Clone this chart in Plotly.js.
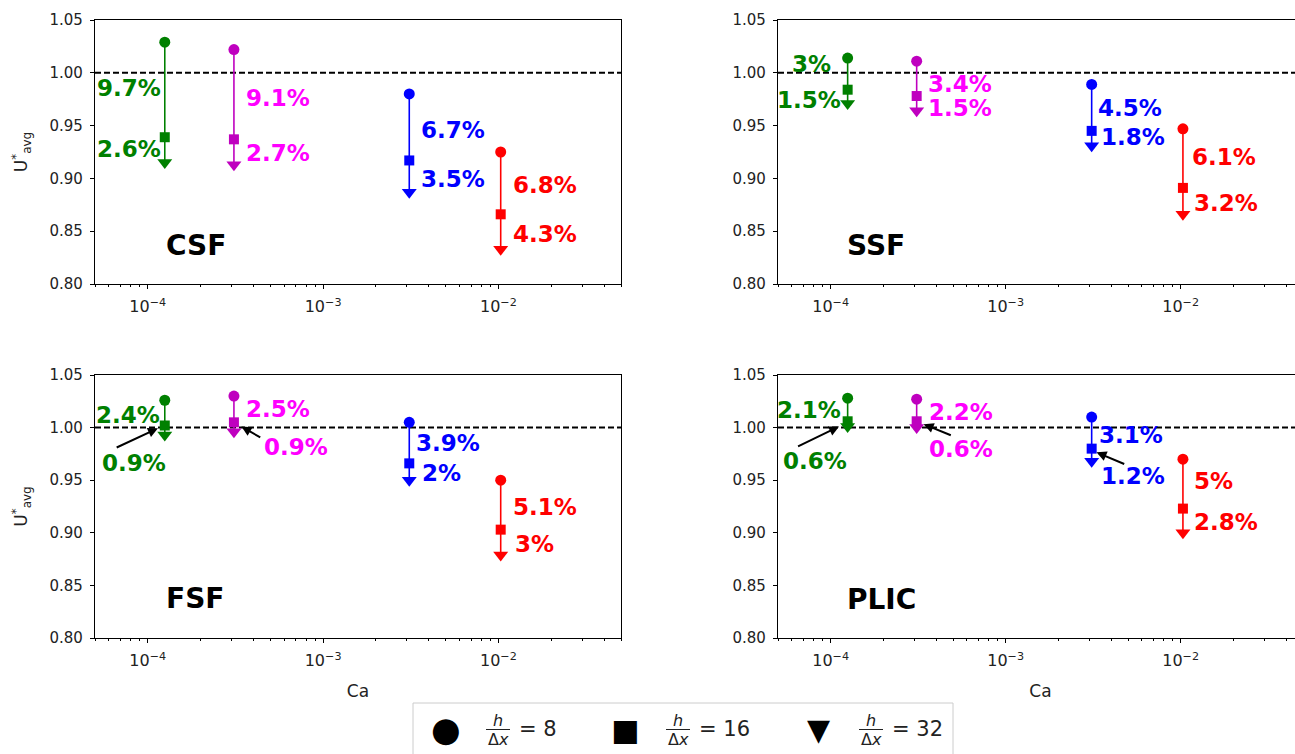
<!DOCTYPE html>
<html><head><meta charset="utf-8">
<script src="https://cdn.plot.ly/plotly-3.0.1.min.js"></script>
<style>html,body{margin:0;padding:0;overflow:hidden;background:#fff}#chart{width:1310px;height:754px}</style>
</head><body><div id="chart"></div>
<script>
// ---------------- data ----------------
const ca = [1.25e-4, 3.1e-4, 3.1e-3, 1.03e-2];
const methods = ['CSF', 'SSF', 'FSF', 'PLIC'];
// U*avg for h/dx = 8, 16, 32 at each Ca
const csf_h8  = [1.029, 1.022, 0.980, 0.925];
const csf_h16 = [0.939, 0.937, 0.917, 0.866];
const csf_h32 = [0.915, 0.913, 0.887, 0.833];
const ssf_h8  = [1.014, 1.011, 0.989, 0.947];
const ssf_h16 = [0.984, 0.978, 0.945, 0.891];
const ssf_h32 = [0.971, 0.964, 0.931, 0.866];
const fsf_h8  = [1.026, 1.030, 1.005, 0.950];
const fsf_h16 = [1.002, 1.005, 0.966, 0.903];
const fsf_h32 = [0.993, 0.996, 0.950, 0.879];
const plic_h8  = [1.028, 1.027, 1.010, 0.970];
const plic_h16 = [1.006, 1.006, 0.980, 0.923];
const plic_h32 = [1.001, 1.000, 0.968, 0.900];
// percentage labels (8->16, 16->32)
const csf_pct_a  = ['9.7%', '9.1%', '6.7%', '6.8%'];
const csf_pct_b  = ['2.6%', '2.7%', '3.5%', '4.3%'];
const ssf_pct_a  = ['3%', '3.4%', '4.5%', '6.1%'];
const ssf_pct_b  = ['1.5%', '1.5%', '1.8%', '3.2%'];
const fsf_pct_a  = ['2.4%', '2.5%', '3.9%', '5.1%'];
const fsf_pct_b  = ['0.9%', '0.9%', '2%', '3%'];
const plic_pct_a = ['2.1%', '2.2%', '3.1%', '5%'];
const plic_pct_b = ['0.6%', '0.6%', '1.2%', '2.8%'];
const x_tick_vals = [1e-4, 1e-3, 1e-2];
const x_tick_text = ['10<sup>\u22124</sup>', '10<sup>\u22123</sup>', '10<sup>\u22122</sup>'];
const legend_labels = ['= 8', '= 16', '= 32'];

// ---------------- styles / layout ----------------
const W = 1310, H = 754;
const FONT = 'DejaVu Sans';
const markerColors = ['#008000', '#BF00BF', '#0000FF', '#FF0000'];
const textColors = ['#008000', '#FF00FF', '#0000FF', '#FF0000'];
const px = v => v / W, py = v => 1 - v / H;

const panels = [
  {name: methods[0], h8: csf_h8, h16: csf_h16, h32: csf_h32, a: csf_pct_a, b: csf_pct_b,
   xd: [95, 621], yd: [20, 284], ytitle: true, xtitle: false,
   posA: [[-3.912, 0.9855, 'right'], [-3.452, 0.9766, 'left'], [-2.452, 0.9456, 'left'], [-1.930, 0.8934, 'left']],
   posB: [[-3.912, 0.928, 'right'], [-3.450, 0.9244, 'left'], [-2.452, 0.8997, 'left'], [-1.930, 0.8475, 'left']],
   lab: [-3.907, 0.836], arrows: []},
  {name: methods[1], h8: ssf_h8, h16: ssf_h16, h32: ssf_h32, a: ssf_pct_a, b: ssf_pct_b,
   xd: [778, 1303], yd: [20, 284], ytitle: false, xtitle: false,
   posA: [[-3.988, 1.0088, 'right'], [-3.457, 0.9897, 'left'], [-2.483, 0.967, 'left'], [-1.948, 0.9206, 'left']],
   posB: [[-3.929, 0.9745, 'right'], [-3.457, 0.9669, 'left'], [-2.464, 0.939, 'left'], [-1.933, 0.877, 'left']],
   lab: [-3.921, 0.836], arrows: []},
  {name: methods[2], h8: fsf_h8, h16: fsf_h16, h32: fsf_h32, a: fsf_pct_a, b: fsf_pct_b,
   xd: [95, 621], yd: [375, 638], ytitle: true, xtitle: true,
   posA: [[-3.919, 1.012, 'right'], [-3.450, 1.0177, 'left'], [-2.480, 0.985, 'left'], [-1.930, 0.925, 'left']],
   posB: [[-4.271, 0.9668, 'left'], [-3.346, 0.9813, 'left'], [-2.450, 0.9567, 'left'], [-1.916, 0.889, 'left']],
   lab: [-3.907, 0.838],
   arrows: [[-4.186, 0.9804, -3.942, 0.9994], [-3.350, 0.9899, -3.466, 1.001]]},
  {name: methods[3], h8: plic_h8, h16: plic_h16, h32: plic_h32, a: plic_pct_a, b: plic_pct_b,
   xd: [778, 1303], yd: [375, 638], ytitle: false, xtitle: true,
   posA: [[-3.929, 1.0169, 'right'], [-3.452, 1.0153, 'left'], [-2.476, 0.9932, 'left'], [-1.933, 0.949, 'left']],
   posB: [[-4.286, 0.968, 'left'], [-3.452, 0.9796, 'left'], [-2.469, 0.9537, 'left'], [-1.933, 0.910, 'left']],
   lab: [-3.921, 0.837],
   arrows: [[-4.195, 0.9815, -3.952, 1.001], [-3.305, 0.9922, -3.469, 1.0033], [-2.314, 0.9648, -2.481, 0.9765]]}
];

const minorVals = [];
for (let e = -5; e <= -2; e++) for (let m = 2; m <= 9; m++) minorVals.push(m * Math.pow(10, e));

const traces = [];
const annotations = [];
const shapes = [];
const layout = {
  width: W, height: H, margin: {l: 0, r: 0, t: 0, b: 0},
  paper_bgcolor: '#fff', plot_bgcolor: '#fff', showlegend: false,
  font: {family: FONT, color: '#222'}
};

panels.forEach((p, k) => {
  const n = k + 1, sfx = n === 1 ? '' : String(n);
  const xr = 'x' + sfx, yr = 'y' + sfx;
  layout['xaxis' + sfx] = {
    type: 'log', domain: [px(p.xd[0]), px(p.xd[1])], anchor: yr,
    range: [Math.log10(5e-5), Math.log10(5e-2)],
    tickmode: 'array', tickvals: x_tick_vals, ticktext: x_tick_text,
    ticks: 'outside', ticklen: 4, tickwidth: 1, tickcolor: '#000', ticklabelstandoff: 4,
    showline: true, linecolor: '#000', linewidth: 1.2, mirror: true,
    showgrid: false, zeroline: false, automargin: false, fixedrange: true,
    tickfont: {family: FONT, size: 16, color: '#222'},
    minor: {tickmode: 'array', tickvals: minorVals, ticks: 'outside', ticklen: 2, tickwidth: 1, tickcolor: '#000', showgrid: false},
    title: p.xtitle ? {text: 'Ca', font: {family: FONT, size: 17, color: '#222'}, standoff: 15} : {text: ''}
  };
  layout['yaxis' + sfx] = {
    domain: [py(p.yd[1]), py(p.yd[0])], anchor: xr,
    range: [0.80, 1.05], tick0: 0.8, dtick: 0.05,
    tickformat: '.2f', ticks: 'outside', ticklen: 4, tickwidth: 1, tickcolor: '#000', ticklabelstandoff: 4,
    showline: true, linecolor: '#000', linewidth: 1.2, mirror: true,
    showgrid: false, zeroline: false, automargin: false, fixedrange: true,
    tickfont: {family: FONT, size: 15, color: '#222'},
    title: p.ytitle ? {text: 'U<sup>*</sup><sub>avg</sub>', font: {family: FONT, size: 17, color: '#222'}, standoff: 17} : {text: ''}
  };
  shapes.push({type: 'line', xref: xr + ' domain', yref: yr, x0: 0, x1: 1, y0: 1, y1: 1,
    line: {color: '#000', width: 2, dash: '6px,3px'}, layer: 'below'});

  ca.forEach((c, i) => {
    traces.push({
      type: 'scatter', mode: 'lines+markers', xaxis: xr, yaxis: yr,
      x: [c, c, c], y: [p.h8[i], p.h16[i], p.h32[i]],
      line: {color: markerColors[i], width: 1.6},
      marker: {symbol: ['circle', 'square', 'triangle-down'], size: [11, 10, 13], color: markerColors[i],
               opacity: 1, line: {width: 0}},
      opacity: 1, hoverinfo: 'x+y', showlegend: false
    });
    [[p.a[i], p.posA[i]], [p.b[i], p.posB[i]]].forEach(([txt, pos]) => {
      annotations.push({xref: xr, yref: yr, x: pos[0], y: pos[1], text: txt,
        showarrow: false, xanchor: pos[2], yanchor: 'middle',
        font: {family: FONT, size: 23, color: textColors[i], weight: 'bold'}});
    });
  });
  annotations.push({xref: xr, yref: yr, x: p.lab[0], y: p.lab[1], text: p.name,
    showarrow: false, xanchor: 'left', yanchor: 'middle', font: {family: FONT, size: 28, color: '#000', weight: 'bold'}});
  p.arrows.forEach(a => {
    annotations.push({xref: xr, yref: yr, axref: xr, ayref: yr, x: a[2], y: a[3], ax: a[0], ay: a[1],
      text: '', showarrow: true, arrowhead: 2, arrowsize: 1, arrowwidth: 2, arrowcolor: '#000', standoff: 0, startstandoff: 0});
  });
});

// ---------------- legend (drawn manually: fraction labels) ----------------
shapes.push({type: 'rect', xref: 'paper', yref: 'paper', x0: px(413), x1: px(953), y0: py(760), y1: py(703),
  line: {color: '#cccccc', width: 1}, fillcolor: '#fff', layer: 'above'});
const legSym = ['\u25CF', '\u25A0', '\u25BC'];
const legSymSize = [34, 30, 30];
const legSymX = [446, 625, 818];
const legFracX = [498, 678, 871];
const legEqX = [517, 697, 890];
legend_labels.forEach((lab, j) => {
  annotations.push({xref: 'paper', yref: 'paper', x: px(legSymX[j]), y: py(729), text: legSym[j],
    showarrow: false, xanchor: 'center', yanchor: 'middle', font: {family: FONT, size: legSymSize[j], color: '#000'}});
  annotations.push({xref: 'paper', yref: 'paper', x: px(legFracX[j]), y: py(720), text: '<i>h</i>',
    showarrow: false, xanchor: 'center', yanchor: 'middle', font: {family: FONT, size: 16, color: '#222'}});
  annotations.push({xref: 'paper', yref: 'paper', x: px(legFracX[j]), y: py(739), text: '\u0394<i>x</i>',
    showarrow: false, xanchor: 'center', yanchor: 'middle', font: {family: FONT, size: 16, color: '#222'}});
  shapes.push({type: 'line', xref: 'paper', yref: 'paper', x0: px(legFracX[j] - 12), x1: px(legFracX[j] + 12),
    y0: py(729.5), y1: py(729.5), line: {color: '#222', width: 1}, layer: 'above'});
  annotations.push({xref: 'paper', yref: 'paper', x: px(legEqX[j]), y: py(729), text: lab,
    showarrow: false, xanchor: 'left', yanchor: 'middle', font: {family: FONT, size: 21, color: '#222'}});
});

layout.annotations = annotations;
layout.shapes = shapes;
Plotly.newPlot('chart', traces, layout, {displayModeBar: false, staticPlot: true});
</script>
</body></html>
